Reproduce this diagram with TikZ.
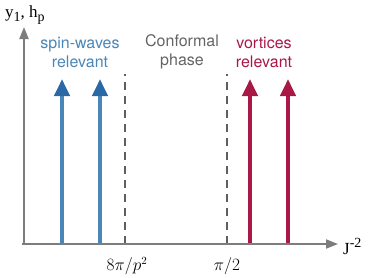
\documentclass[tikz,border=0pt]{standalone}
\usepackage{fontspec}
\setsansfont{TeX Gyre Heros}
\newfontfamily\axfont{Liberation Serif}
\usepackage{tikz}
\usetikzlibrary{arrows.meta}

\definecolor{swblue}{RGB}{74,134,184}
\definecolor{swhead}{RGB}{42,104,166}
\definecolor{vxred}{RGB}{170,24,70}
\definecolor{axgray}{RGB}{125,125,125}
\definecolor{dashgray}{RGB}{95,95,95}
\definecolor{txtgray}{RGB}{100,100,100}

\newcommand{\axsub}[1]{\raisebox{-4.5pt}{\fontsize{14}{14}\selectfont #1}}
\newcommand{\axsup}[1]{\raisebox{7pt}{\fontsize{14}{14}\selectfont #1}}

\tikzset{
  axis/.style={draw=axgray,line width=1.8pt,-{Triangle[length=12pt,width=9pt]}},
  swarrow/.style={draw=swblue,line width=4pt,-{Triangle[length=17pt,width=15pt,color=swhead]}},
  vxarrow/.style={draw=vxred,line width=4pt,-{Triangle[length=17pt,width=15pt]}},
  bound/.style={draw=dashgray,line width=2pt,dash pattern=on 8pt off 6pt},
  lbl/.style={font=\sffamily\fontsize{16}{19}\selectfont,align=center},
  tick/.style={font=\fontsize{16}{19}\selectfont},
  axlbl/.style={anchor=west,inner sep=0pt,font=\axfont\fontsize{17}{19}\selectfont}
}

\begin{document}
\begin{tikzpicture}[x=1pt,y=1pt]
 \useasboundingbox (0,0) rectangle (371,277);

 \coordinate (O) at (24,33);
 \coordinate (X0) at (22,33);
 \coordinate (X1) at (338,33);
 \coordinate (Y1) at (24,250);

 \coordinate (S1) at (62,33);  \coordinate (S1t) at (62,198);
 \coordinate (S2) at (100,33); \coordinate (S2t) at (100,198);
 \coordinate (D1) at (125,33); \coordinate (D1t) at (125,203);
 \coordinate (D2) at (227,33); \coordinate (D2t) at (227,203);
 \coordinate (V1) at (250,33); \coordinate (V1t) at (250,198);
 \coordinate (V2) at (288,33); \coordinate (V2t) at (288,198);

 \draw[bound] (D1) -- (D1t);
 \draw[bound] (D2) -- (D2t);
 \draw[swarrow] (S1) -- (S1t);
 \draw[swarrow] (S2) -- (S2t);
 \draw[vxarrow] (V1) -- (V1t);
 \draw[vxarrow] (V2) -- (V2t);

 \path[axis] (X0) -- (X1);
 \path[axis] (O) -- (Y1);

 \node[lbl,text=swblue] (sw) at (80,225) {spin-waves\\relevant};
 \node[lbl,text=txtgray] (cf) at (182,225) {Conformal\\phase};
 \node[lbl,text=vxred] (vx) at (264,225) {vortices\\relevant};

 \node[tick] (t1) at (127,11) {$8\pi/p^2$};
 \node[tick] (t2) at (227,11) {$\pi/2$};

 \node[axlbl] (xl) at (343,31) {J\axsup{-2}};
 \node[axlbl] (yl) at (5,262) {y\axsub{1}, h\axsub{p}};
\end{tikzpicture}
\end{document}
